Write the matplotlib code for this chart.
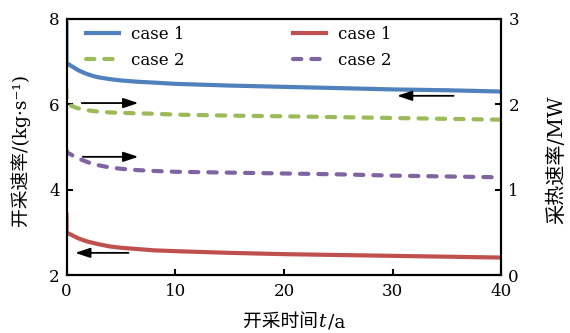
import matplotlib
matplotlib.use("Agg")
import matplotlib.pyplot as plt
from matplotlib.offsetbox import TextArea, HPacker, AnchoredOffsetbox

# Time axis (years) and the four series
t_years = [0, 0, 0.3, 0.7, 1, 1.5, 2, 2.5, 3, 4, 5, 6.5, 8, 10, 15, 20, 25, 30, 35, 40]
flow_case1 = [7.9, 6.97, 6.92, 6.86, 6.81, 6.75, 6.70, 6.66, 6.63, 6.59, 6.56, 6.53,
              6.51, 6.48, 6.44, 6.41, 6.38, 6.35, 6.33, 6.30]
flow_case2 = [3.41, 3.00, 2.96, 2.91, 2.87, 2.82, 2.78, 2.75, 2.72, 2.67, 2.64, 2.61,
              2.58, 2.56, 2.52, 2.49, 2.47, 2.45, 2.43, 2.41]
heat_case1 = [2.17, 2.02, 1.99, 1.97, 1.955, 1.94, 1.93, 1.92, 1.915, 1.905, 1.90, 1.895,
              1.89, 1.88, 1.868, 1.86, 1.85, 1.84, 1.83, 1.82]
heat_case2 = [1.46, 1.44, 1.42, 1.39, 1.37, 1.345, 1.32, 1.30, 1.285, 1.26, 1.245, 1.23,
              1.22, 1.21, 1.20, 1.19, 1.18, 1.165, 1.155, 1.145]

x_ticks = [0, 10, 20, 30, 40]
left_ticks = [2, 4, 6, 8]
right_ticks = [0, 1, 2, 3]
series_labels = ["case 1", "case 2"]

BLUE = "#4F81BD"
RED = "#C0504D"
GREEN = "#9BBB59"
PURPLE = "#8064A2"

FONTS = ["DejaVu Serif", "Noto Sans CJK SC"]
plt.rcParams["font.family"] = FONTS
plt.rcParams["axes.linewidth"] = 1.5

fig = plt.figure(figsize=(5.7, 3.33), dpi=100)
ax = fig.add_axes([0.1167, 0.174, 0.763, 0.769])
ax2 = ax.twinx()

lw = 3.0
dash = dict(dashes=(2.0, 2.4), dash_capstyle="round")
l1, = ax.plot(t_years, flow_case1, color=BLUE, lw=lw, label=series_labels[0])
l3, = ax.plot(t_years, flow_case2, color=RED, lw=lw, label=series_labels[0])
l2, = ax2.plot(t_years, heat_case1, color=GREEN, lw=lw, label=series_labels[1], **dash)
l4, = ax2.plot(t_years, heat_case2, color=PURPLE, lw=lw, label=series_labels[1], **dash)

ax.set_xlim(0, 40)
ax.set_ylim(2, 8)
ax2.set_ylim(0, 3)
ax.set_xticks(x_ticks)
ax.set_yticks(left_ticks)
ax2.set_yticks(right_ticks)

for a in (ax, ax2):
    a.tick_params(direction="in", length=4, width=1.5, labelsize=12, pad=5)
ax.tick_params(axis="x", pad=6)

ax.set_ylabel("开采速率/(kg·s⁻¹)", fontsize=13.5)
ax.yaxis.set_label_coords(-0.107, 0.49)
ax.yaxis.label.set_verticalalignment("center")
ax2.set_ylabel("采热速率/MW", fontsize=14.5, rotation=90)
ax2.yaxis.set_label_coords(1.128, 0.45)
ax2.yaxis.label.set_verticalalignment("center")

# x-axis label with an italic t
xlab = HPacker(children=[
    TextArea("开采时间", textprops=dict(fontsize=13.5, family=FONTS)),
    TextArea("t", textprops=dict(fontsize=13.5, family=FONTS, style="italic")),
    TextArea("/a", textprops=dict(fontsize=13.5, family=FONTS)),
], align="baseline", pad=0, sep=1)
ax.add_artist(AnchoredOffsetbox(loc="center", child=xlab, frameon=False, pad=0,
                                bbox_to_anchor=(0.523, -0.184), bbox_transform=ax.transAxes,
                                borderpad=0))

# Arrows pointing each curve to its axis
arrow = dict(arrowstyle="-|>,head_length=0.9,head_width=0.3", color="black", lw=1.3,
             shrinkA=0, shrinkB=0)
ax.annotate("", xy=(30.4, 6.2), xytext=(35.6, 6.2), arrowprops=arrow)
ax.annotate("", xy=(6.6, 6.03), xytext=(1.4, 6.03), arrowprops=arrow)
ax.annotate("", xy=(6.6, 4.77), xytext=(1.5, 4.77), arrowprops=arrow)
ax.annotate("", xy=(0.8, 2.52), xytext=(5.7, 2.52), arrowprops=arrow)

leg_kw = dict(frameon=False, fontsize=12, handlelength=2.0, handletextpad=0.7,
              labelspacing=0.55, borderpad=0, borderaxespad=0, loc="upper left")
leg1 = ax2.legend([l1, l2], series_labels, bbox_to_anchor=(0.044, 0.973), **leg_kw)
ax2.add_artist(leg1)
ax2.legend([l3, l4], series_labels, bbox_to_anchor=(0.521, 0.973), **leg_kw)

fig.savefig("out.png", dpi=100)
